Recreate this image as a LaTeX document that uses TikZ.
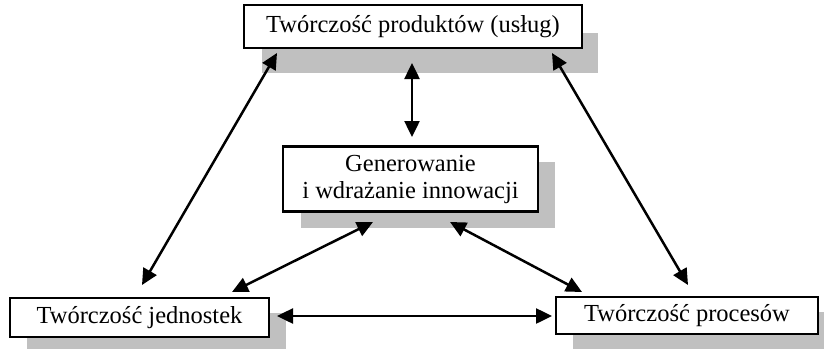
\documentclass[tikz,border=0pt]{standalone}
\usepackage{fontspec}
\setmainfont{Liberation Serif}
\usetikzlibrary{arrows.meta}
\definecolor{shadowgray}{HTML}{C0C0C0}
\begin{document}
\begin{tikzpicture}[x=1pt,y=-1pt,
  box/.style={draw=black,line width=2.5pt,fill=white,inner sep=0pt,font=\fontsize{24.5}{27}\selectfont,align=center},
  conn/.style={line width=2.5pt,{Triangle[length=16pt,width=15pt]}-{Triangle[length=16pt,width=15pt]}}]
\useasboundingbox (0,0) rectangle (824,348);
\clip (0,0) rectangle (824,348);
% shadows
\fill[shadowgray] (262,33) rectangle (598,73);
\fill[shadowgray] (301,162) rectangle (555,228);
\fill[shadowgray] (27,313) rectangle (286,350);
\fill[shadowgray] (573,312) rectangle (840,350);
% boxes
\node[box,minimum width=338pt,minimum height=43pt] (top) at (413,26.5) {Twórczość produktów (usług)};
\node[box,minimum width=255pt,minimum height=65pt] (mid) at (410.5,179) {Generowanie\\i wdrażanie innowacji};
\node[box,minimum width=259pt,minimum height=39pt] (left) at (139.5,317.5) {Twórczość jednostek};
\node[box,minimum width=262pt,minimum height=37pt] (right) at (687,315.5) {Twórczość procesów};
% arrow end points
\coordinate (tl) at (277,53);
\coordinate (lt) at (142,285);
\coordinate (tr) at (552,53);
\coordinate (rt) at (688,285);
\coordinate (tm) at (412,63);
\coordinate (mt) at (412,137);
\coordinate (ml) at (373,222);
\coordinate (lm) at (232,292);
\coordinate (mr) at (450,222);
\coordinate (rm) at (582,292);
\coordinate (lr) at (277,316);
\coordinate (rl) at (552,316);
\draw[conn] (tl) -- (lt);
\draw[conn] (tr) -- (rt);
\draw[conn] (tm) -- (mt);
\draw[conn] (ml) -- (lm);
\draw[conn] (mr) -- (rm);
\draw[conn] (lr) -- (rl);
\end{tikzpicture}
\end{document}
